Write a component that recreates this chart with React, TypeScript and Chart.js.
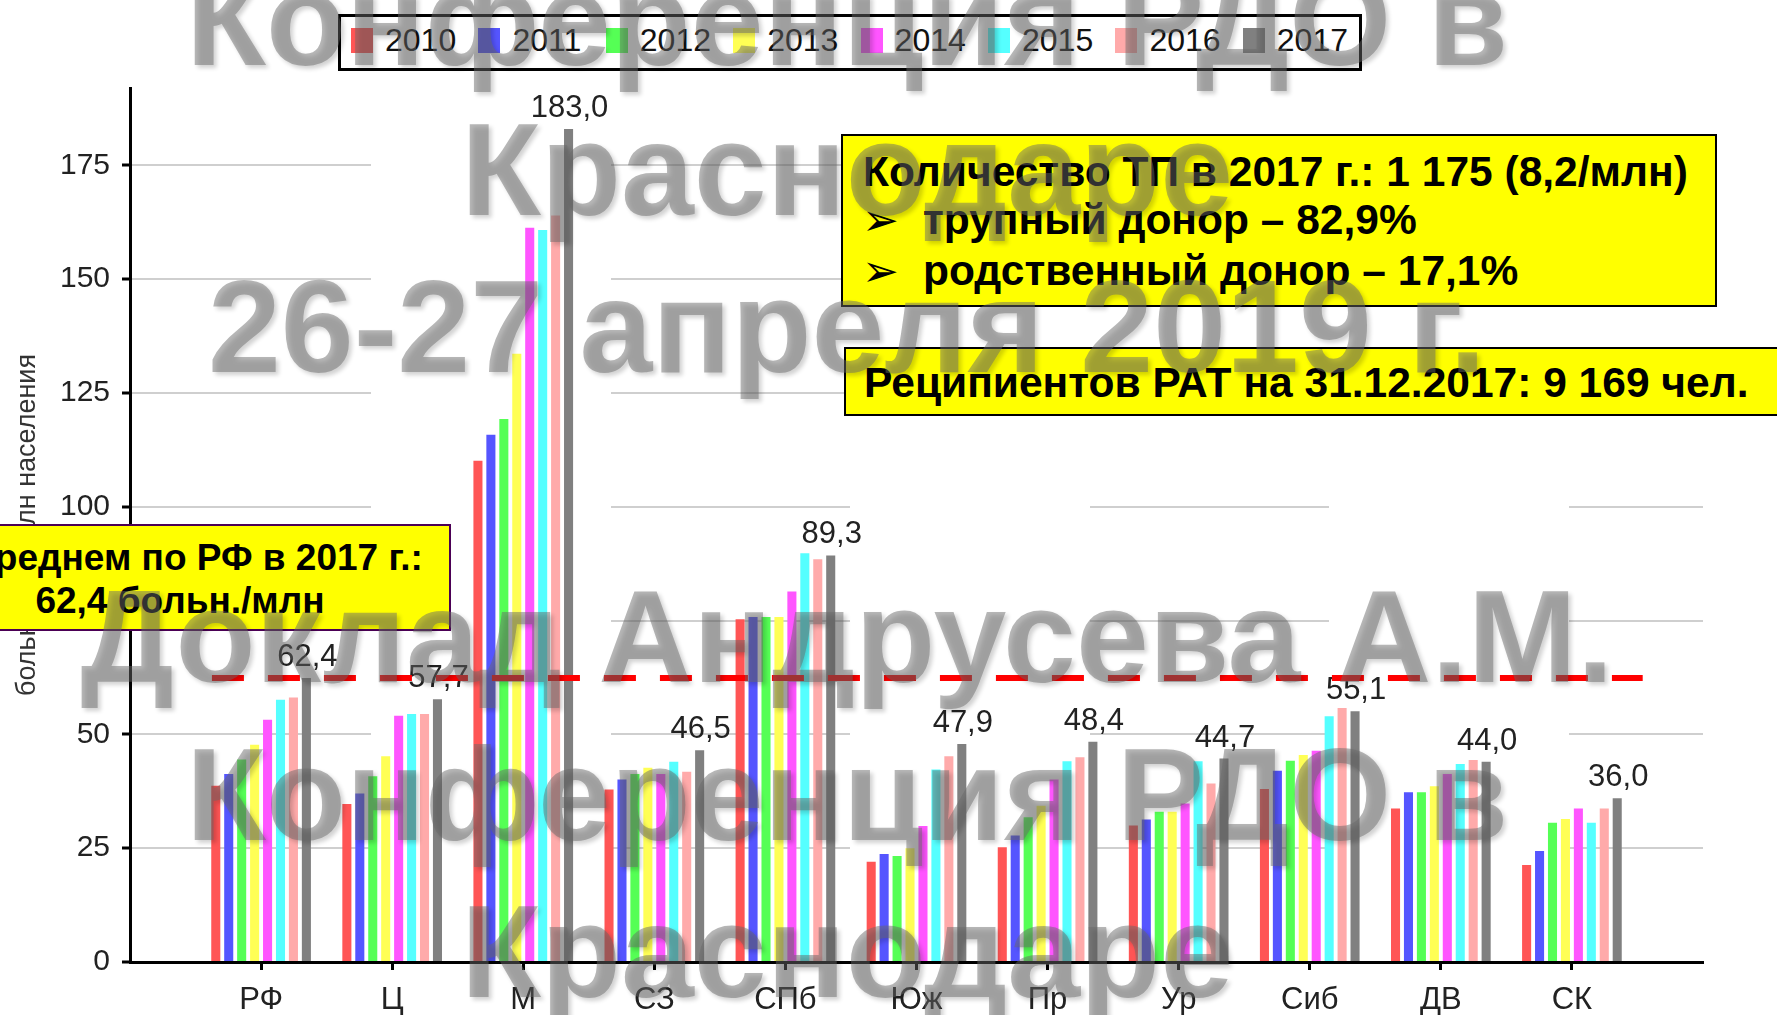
import React, { useEffect, useRef } from 'react';
import { Chart, registerables } from 'chart.js';

Chart.register(...registerables);

const regions = ['РФ', 'Ц', 'М', 'СЗ', 'СПб', 'Юж', 'Пр', 'Ур', 'Сиб', 'ДВ', 'СК'];
const years = ['2010', '2011', '2012', '2013', '2014', '2015', '2016', '2017'];
const colors = ['#FF5555', '#5555FF', '#55FF55', '#FFFF55', '#FF55FF', '#55FFFF', '#FFAAAA', '#808080'];

const v2010 = [38.7, 34.7, 110.1, 37.9, 75.3, 22.0, 25.2, 30.0, 38.0, 33.7, 21.3];
const v2011 = [41.3, 37.0, 115.8, 40.1, 75.8, 23.7, 27.8, 31.3, 42.0, 37.3, 24.4];
const v2012 = [44.5, 40.8, 119.3, 41.3, 75.8, 23.3, 31.8, 33.0, 44.2, 37.3, 30.6];
const v2013 = [47.7, 45.2, 133.6, 42.7, 75.8, 25.0, 34.3, 33.0, 45.5, 38.6, 31.4];
const v2014 = [53.2, 54.1, 161.3, 41.3, 81.4, 29.9, 40.1, 34.8, 46.4, 41.3, 33.7];
const v2015 = [57.6, 54.5, 160.8, 44.0, 89.8, 42.3, 44.1, 44.1, 54.0, 43.5, 30.6];
const v2016 = [58.1, 54.5, 164.0, 41.8, 88.5, 45.2, 45.0, 39.2, 55.8, 44.4, 33.7];
const v2017 = [62.4, 57.7, 183.0, 46.5, 89.3, 47.9, 48.4, 44.7, 55.1, 44.0, 36.0];
const seriesValues = [v2010, v2011, v2012, v2013, v2014, v2015, v2016, v2017];

const yTicks = [0, 25, 50, 75, 100, 125, 150, 175];
const yMax = 192;
const rfAverage = 62.4;
const yTitle = 'больных на млн населения';

const infoLine1 = 'Количество ТП в 2017 г.: 1 175 (8,2/млн)';
const infoLine2 = 'трупный донор – 82,9%';
const infoLine3 = 'родственный донор – 17,1%';
const infoRecipients = 'Реципиентов РАТ на 31.12.2017: 9 169 чел.';
const avgLine1 = 'В среднем по РФ в 2017 г.:';
const avgLine2 = '62,4 больн./млн';

const watermark = [
  { text: 'Конференция РДО в', baseline: 65 },
  { text: 'Краснодаре', baseline: 215 },
  { text: '26-27 апреля 2019 г.', baseline: 372 },
  { text: 'Доклад Андрусева А.М.', baseline: 682 },
  { text: 'Конференция РДО в', baseline: 840 },
  { text: 'Краснодаре', baseline: 997 },
];

const FONT = '"Liberation Sans", Arial, "DejaVu Sans", sans-serif';

const pad = (arr: number[]) => [null, ...arr, null];
const paddedLabels = ['', ...regions, ''];

const overlayPlugin = {
  id: 'overlayPlugin',
  afterDatasetsDraw(chart: any) {
    const { ctx, scales } = chart;
    const x = scales.x;
    const y = scales.y;
    const meta = chart.getDatasetMeta(years.length - 1);
    const last = pad(v2017);
    ctx.save();
    ctx.font = `31px ${FONT}`;
    ctx.fillStyle = '#222';
    ctx.textAlign = 'center';
    ctx.textBaseline = 'alphabetic';
    meta.data.forEach((bar: any, i: number) => {
      const v = last[i];
      if (v == null) return;
      ctx.fillText(v.toFixed(1).replace('.', ','), bar.x + 1, bar.y - 12);
    });
    const slot = x.getPixelForValue(2) - x.getPixelForValue(1);
    const x1 = x.getPixelForValue(1) - 0.375 * slot;
    const x2 = x.getPixelForValue(regions.length) + 0.54 * slot;
    const yy = y.getPixelForValue(rfAverage);
    ctx.strokeStyle = '#FF0000';
    ctx.lineWidth = 6;
    ctx.setLineDash([32, 24]);
    ctx.beginPath();
    ctx.moveTo(x1, yy);
    ctx.lineTo(x2, yy);
    ctx.stroke();
    ctx.restore();
  },
};

export default function App() {
  const canvasRef = useRef<HTMLCanvasElement | null>(null);

  useEffect(() => {
    if (!canvasRef.current) return;
    const chart = new Chart(canvasRef.current, {
      type: 'bar',
      data: {
        labels: paddedLabels,
        datasets: years.map((yr, i) => ({
          label: yr,
          data: pad(seriesValues[i]) as any,
          backgroundColor: colors[i],
          borderWidth: 0,
          categoryPercentage: 0.79,
          barPercentage: 0.7,
        })),
      },
      options: {
        responsive: false,
        animation: false,
        devicePixelRatio: 1,
        layout: { padding: { left: 0, right: 74, top: 88, bottom: 0 } },
        plugins: { legend: { display: false }, tooltip: { enabled: false }, title: { display: false } },
        scales: {
          x: {
            type: 'category',
            offset: false,
            afterFit: (s: any) => { s.height = 53; },
            grid: {
              offset: false,
              drawOnChartArea: false,
              drawTicks: true,
              tickLength: 8,
              tickWidth: 3,
              tickColor: (c: any) => (c.index === 0 || c.index === paddedLabels.length - 1 ? 'rgba(0,0,0,0)' : '#000'),
            },
            border: { display: true, color: '#000', width: 3 },
            ticks: {
              autoSkip: false,
              maxRotation: 0,
              padding: 12,
              color: '#222',
              font: { family: FONT, size: 31 },
            },
          },
          y: {
            min: 0,
            max: yMax,
            afterFit: (s: any) => { s.width = 130; },
            afterBuildTicks: (s: any) => { s.ticks = yTicks.map((v) => ({ value: v })); },
            grid: {
              color: '#CFCFCF',
              lineWidth: 2,
              drawTicks: true,
              tickLength: 8,
              tickWidth: 3,
              tickColor: '#000',
            },
            border: { display: true, color: '#000', width: 3, dash: [239, 240] },
            ticks: {
              padding: 12,
              color: '#222',
              font: { family: FONT, size: 30 },
              callback: (v: any) => String(v),
            },
            title: {
              display: true,
              text: yTitle,
              color: '#333',
              font: { family: FONT, size: 27 },
              padding: { top: 11, bottom: 0 },
            },
          },
        },
      },
      plugins: [overlayPlugin],
    });
    return () => chart.destroy();
  }, []);

  const boxText: React.CSSProperties = {
    position: 'absolute',
    fontFamily: FONT,
    fontWeight: 'bold',
    fontSize: 42.5,
    lineHeight: '48px',
    height: 48,
    color: '#000',
    whiteSpace: 'nowrap',
  };
  const arrow: React.CSSProperties = {
    ...boxText,
    fontFamily: '"DejaVu Sans", sans-serif',
    fontWeight: 'normal',
    fontSize: 44,
  };
  const avgText: React.CSSProperties = {
    ...boxText,
    fontSize: 37,
    lineHeight: '44px',
    height: 44,
    left: -91,
    width: 542,
    textAlign: 'center',
  };

  return (
    <div
      style={{
        position: 'fixed',
        left: 0,
        top: 0,
        width: 1777,
        height: 1015,
        overflow: 'hidden',
        background: '#fff',
      }}
    >
      <canvas ref={canvasRef} width={1777} height={1015} style={{ position: 'absolute', left: 0, top: 0, display: 'block' }} />

      {/* legend */}
      <div
        style={{
          position: 'absolute',
          left: 338,
          top: 14,
          width: 1024,
          height: 57,
          border: '3px solid #000',
          boxSizing: 'border-box',
          background: '#fff',
        }}
      >
        {years.map((yr, i) => (
          <React.Fragment key={yr}>
            <div
              style={{
                position: 'absolute',
                left: 10 + 127.4 * i,
                top: 11,
                width: 22,
                height: 25,
                background: colors[i],
              }}
            />
            <div
              style={{
                position: 'absolute',
                left: 44 + 127.4 * i,
                top: 5,
                fontFamily: FONT,
                fontSize: 32,
                lineHeight: '36px',
                color: '#111',
                whiteSpace: 'nowrap',
              }}
            >
              {yr}
            </div>
          </React.Fragment>
        ))}
      </div>

      {/* info box */}
      <div
        style={{
          position: 'absolute',
          left: 841,
          top: 134,
          width: 876,
          height: 173,
          background: '#FFFF00',
          border: '2px solid #000',
          boxSizing: 'border-box',
        }}
      />
      <div style={{ ...boxText, left: 863, top: 148 }}>{infoLine1}</div>
      <div style={{ ...arrow, left: 862, top: 196 }}>➢</div>
      <div style={{ ...boxText, left: 923, top: 196 }}>{infoLine2}</div>
      <div style={{ ...arrow, left: 862, top: 247 }}>➢</div>
      <div style={{ ...boxText, left: 923, top: 247 }}>{infoLine3}</div>

      {/* recipients box */}
      <div
        style={{
          position: 'absolute',
          left: 844,
          top: 347,
          width: 960,
          height: 69,
          background: '#FFFF00',
          border: '2px solid #000',
          boxSizing: 'border-box',
        }}
      />
      <div style={{ ...boxText, left: 864, top: 359 }}>{infoRecipients}</div>

      {/* average box */}
      <div
        style={{
          position: 'absolute',
          left: -91,
          top: 524,
          width: 542,
          height: 107,
          background: '#FFFF00',
          border: '2px solid #4B0055',
          boxSizing: 'border-box',
        }}
      />
      <div style={{ ...avgText, top: 536 }}>{avgLine1}</div>
      <div style={{ ...avgText, top: 579 }}>{avgLine2}</div>

      {/* watermark */}
      {watermark.map((w, i) => (
        <div
          key={i}
          style={{
            position: 'absolute',
            left: 0,
            width: 1694,
            top: w.baseline - 111,
            height: 131,
            textAlign: 'center',
            fontFamily: FONT,
            fontWeight: 'bold',
            fontSize: 131,
            lineHeight: '131px',
            color: 'rgba(105,105,105,0.48)',
            textShadow: '3px 3px 4px rgba(0,0,0,0.18)',
            whiteSpace: 'nowrap',
            pointerEvents: 'none',
          }}
        >
          {w.text}
        </div>
      ))}
    </div>
  );
}
